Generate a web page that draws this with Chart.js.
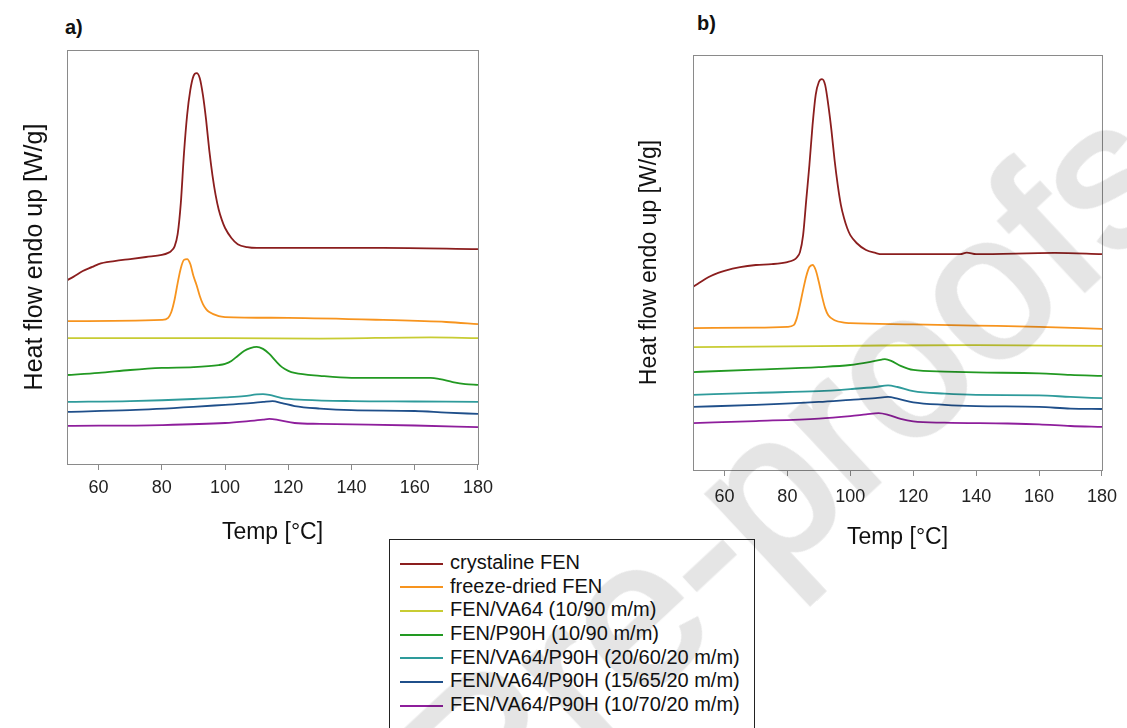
<!DOCTYPE html>
<html>
<head>
<meta charset="utf-8">
<script src="https://cdn.jsdelivr.net/npm/chart.js@4.4.1/dist/chart.umd.min.js"></script>
<style>
  body { margin: 0; background: #fff; font-family: 'Liberation Sans', Arial, sans-serif; }
  #page { position: relative; width: 1127px; height: 728px; overflow: hidden; }
  canvas { position: absolute; }
  .tag { position: absolute; font-weight: bold; font-size: 20px; color: #111; }
  #legend { position: absolute; left: 389px; top: 539px; width: 366px; height: 220px;
            border: 1.5px solid #222; background: #fff; padding-top: 11px; box-sizing: border-box; }
  .row { height: 23.7px; line-height: 23.7px; font-size: 20px; color: #111; white-space: nowrap; }
  .swatch { display: inline-block; width: 43px; height: 2px; margin: 0 7px 0 10px; vertical-align: middle; }
  #wm { position: absolute; left: 1209px; top: 216px; width: 0; height: 0; pointer-events: none; }
  #wm span { position: absolute; right: 0; bottom: 0; transform-origin: 100% 100%; transform: rotate(-43deg);
             font-size: 205px; line-height: 1; color: #000; -webkit-text-stroke: 5px #000;
             opacity: 0.1; white-space: nowrap; }
</style>
</head>
<body>
<div id="page">
  <div class="tag" style="left:65px; top:16px;">a)</div>
  <div class="tag" style="left:697px; top:12px;">b)</div>
  <canvas id="chartA" width="500" height="550" style="left:0; top:0;"></canvas>
  <canvas id="chartB" width="527" height="555" style="left:600px; top:0;"></canvas>
  <div id="legend"></div>
  <div id="wm"><span>Journal Pre-proofs</span></div>
</div>
<script>
// x ticks and series labels
const xTicks = [60, 80, 100, 120, 140, 160, 180];
const seriesNames = [
    'crystaline FEN',
    'freeze-dried FEN',
    'FEN/VA64 (10/90 m/m)',
    'FEN/P90H (10/90 m/m)',
    'FEN/VA64/P90H (20/60/20 m/m)',
    'FEN/VA64/P90H (15/65/20 m/m)',
    'FEN/VA64/P90H (10/70/20 m/m)'
];
const seriesColors = ['#8b1e1e', '#f7941e', '#c8cc33', '#229922', '#2e9b9b', '#1f4f8a', '#8e1e9c'];

// panel a) [temp, heat flow (offset, a.u.)]
const crystA = [[50,4.44],[52,4.52],[55,4.66],[58,4.76],[60,4.83],[65,4.90],[70,4.95],[75,5.00],[80,5.05],[82,5.10],[83,5.15],[84,5.25],[85,5.55],[86,6.30],[87,7.50],[88,8.43],[89,9.03],[90,9.37],[91,9.44],[92,9.32],[93,8.91],[94,8.31],[95,7.58],[96,6.98],[97,6.50],[98,6.14],[99,5.89],[100,5.70],[102,5.46],[104,5.31],[107,5.24],[110,5.22],[130,5.22],[150,5.22],[180,5.19]];
const freezeA = [[50,3.45],[80,3.48],[82,3.53],[83,3.67],[84,3.96],[85,4.37],[86,4.73],[87,4.93],[88,4.95],[89,4.83],[90,4.54],[91,4.32],[92,4.06],[93,3.86],[94,3.74],[95,3.67],[98,3.57],[100,3.55],[120,3.53],[150,3.48],[170,3.43],[180,3.38]];
const va64A = [[50,3.04],[100,3.04],[130,3.03],[165,3.06],[180,3.04]];
const p90hA = [[50,2.15],[60,2.20],[70,2.27],[80,2.32],[90,2.34],[98,2.39],[100,2.42],[102,2.49],[104,2.61],[106,2.73],[108,2.80],[110,2.83],[112,2.78],[114,2.66],[116,2.49],[118,2.34],[120,2.25],[122,2.20],[130,2.13],[140,2.08],[165,2.08],[168,2.05],[172,1.98],[176,1.93],[180,1.91]];
const mix20A = [[50,1.50],[70,1.52],[90,1.57],[100,1.61],[106,1.64],[110,1.68],[112,1.69],[114,1.67],[118,1.59],[125,1.55],[140,1.52],[160,1.51],[180,1.50]];
const mix15A = [[50,1.26],[70,1.30],[90,1.38],[100,1.43],[108,1.47],[112,1.50],[115,1.52],[118,1.47],[122,1.40],[130,1.34],[140,1.30],[160,1.28],[170,1.24],[180,1.21]];
const mix10A = [[50,0.92],[80,0.94],[100,0.99],[108,1.04],[112,1.07],[114,1.09],[117,1.06],[122,0.99],[130,0.97],[160,0.93],[180,0.89]];

// panel b)
const crystB = [[50,4.41],[52,4.51],[55,4.65],[58,4.75],[60,4.80],[65,4.89],[70,4.94],[75,4.96],[80,5.01],[82,5.06],[83,5.12],[84,5.25],[85,5.66],[86,6.51],[87,7.35],[88,8.31],[89,9.04],[90,9.35],[91,9.42],[92,9.28],[93,8.80],[94,8.19],[95,7.47],[96,6.87],[97,6.39],[98,6.07],[99,5.83],[100,5.66],[102,5.47],[105,5.30],[108,5.23],[110,5.20],[135,5.20],[137,5.24],[140,5.20],[165,5.23],[180,5.20]];
const freezeB = [[50,3.42],[70,3.43],[80,3.45],[82,3.49],[83,3.66],[84,3.98],[85,4.34],[86,4.67],[87,4.89],[88,4.94],[89,4.82],[90,4.53],[91,4.19],[92,3.90],[93,3.73],[95,3.61],[98,3.55],[100,3.54],[120,3.51],[140,3.48],[160,3.45],[180,3.40]];
const va64B = [[50,2.96],[80,2.98],[110,3.00],[140,3.01],[180,2.99]];
const p90hB = [[50,2.36],[70,2.42],[90,2.48],[100,2.53],[106,2.60],[110,2.66],[111,2.67],[113,2.63],[116,2.51],[120,2.41],[130,2.37],[140,2.35],[160,2.33],[170,2.29],[180,2.27]];
const mix20B = [[50,1.81],[70,1.86],[90,1.90],[100,1.95],[108,2.00],[112,2.04],[115,2.00],[120,1.90],[130,1.84],[140,1.81],[160,1.80],[170,1.76],[180,1.73]];
const mix15B = [[50,1.52],[70,1.57],[90,1.64],[100,1.69],[108,1.73],[112,1.76],[115,1.72],[120,1.63],[130,1.57],[140,1.54],[160,1.52],[170,1.48],[180,1.47]];
const mix10B = [[50,1.13],[70,1.18],[90,1.24],[100,1.30],[105,1.34],[109,1.37],[112,1.33],[116,1.23],[120,1.17],[130,1.14],[150,1.12],[160,1.10],[170,1.06],[180,1.04]];

const panelA = [crystA, freezeA, va64A, p90hA, mix20A, mix15A, mix10A];
const panelB = [crystB, freezeB, va64B, p90hB, mix20B, mix15B, mix10B];

Chart.defaults.font.family = "'Liberation Sans', Arial, sans-serif";
Chart.defaults.color = '#111';

// frame around the plot area
const boxPlugin = {
    id: 'box',
    afterDraw(chart) {
        const { ctx, chartArea: a } = chart;
        ctx.save();
        ctx.strokeStyle = '#8a8a8a';
        ctx.lineWidth = 1;
        ctx.strokeRect(a.left + 0.5, a.top + 0.5, a.right - a.left, a.bottom - a.top);
        ctx.restore();
    }
};

function makeChart(id, series, opts) {
    const datasets = series.map((pts, i) => ({
        label: seriesNames[i],
        data: pts.map(p => ({ x: p[0], y: p[1] })),
        borderColor: seriesColors[i],
        borderWidth: 1.8,
        pointRadius: 0,
        fill: false,
        cubicInterpolationMode: 'monotone'
    }));

    return new Chart(document.getElementById(id), {
        type: 'line',
        data: { datasets: datasets },
        options: {
            responsive: false,
            animation: false,
            devicePixelRatio: 1,
            layout: { padding: { top: opts.top, right: opts.right, left: 0, bottom: 0 } },
            plugins: { legend: { display: false }, tooltip: { enabled: false } },
            scales: {
                x: {
                    type: 'linear',
                    min: 50,
                    max: 180,
                    afterBuildTicks: s => { s.ticks = xTicks.map(v => ({ value: v })); },
                    afterFit: s => { s.height = opts.xh; },
                    grid: { drawOnChartArea: false, drawTicks: true, tickLength: 6, color: '#8a8a8a' },
                    border: { display: false },
                    ticks: { font: { size: 18 }, color: '#222', padding: opts.tickPad, maxRotation: 0 },
                    title: { display: true, text: 'Temp [°C]', font: { size: 23 }, color: '#111', padding: { top: 0, bottom: 4 } }
                },
                y: {
                    min: 0,
                    max: 10,
                    afterFit: s => { s.width = opts.yw; },
                    grid: { display: false },
                    border: { display: false },
                    ticks: { display: false },
                    title: { display: true, text: 'Heat flow endo up [W/g]', font: { size: opts.ySize }, color: '#111', padding: { top: opts.yPad, bottom: 0 } }
                }
            }
        },
        plugins: [boxPlugin]
    });
}

makeChart('chartA', panelA, { top: 50, right: 16, xh: 86, yw: 67, tickPad: 7, ySize: 25, yPad: 20 });
makeChart('chartB', panelB, { top: 55, right: 18, xh: 85, yw: 93, tickPad: 10, ySize: 23, yPad: 36 });

// legend box
const legend = document.getElementById('legend');
seriesNames.forEach((name, i) => {
    const row = document.createElement('div');
    row.className = 'row';
    row.innerHTML = `<span class="swatch" style="background:${seriesColors[i]}"></span>${name}`;
    legend.appendChild(row);
});
</script>
</body>
</html>
